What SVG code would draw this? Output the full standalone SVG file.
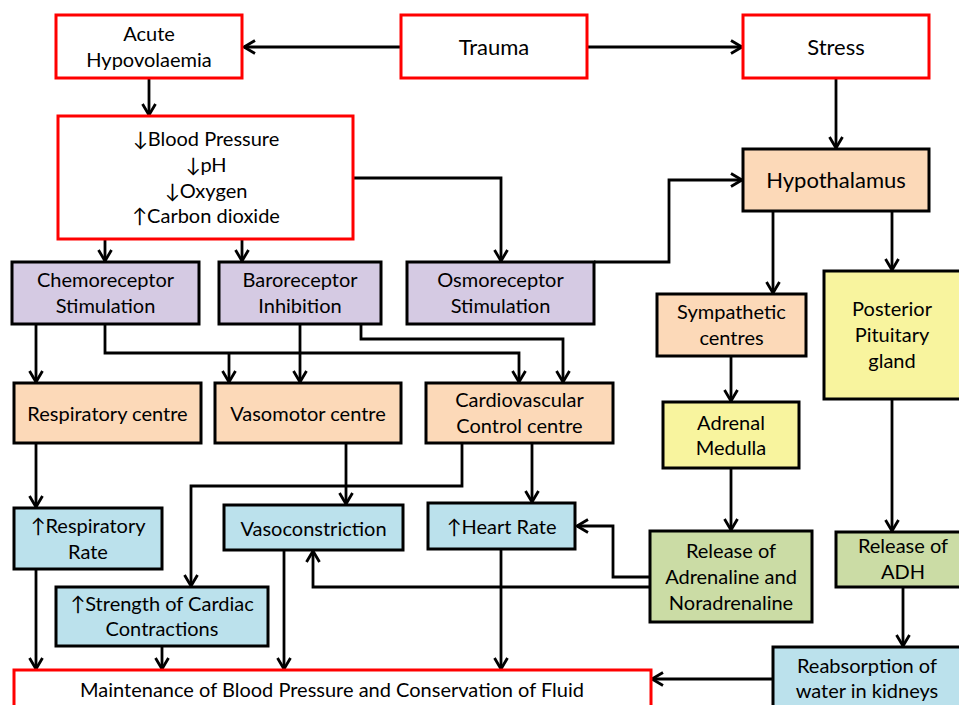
<svg xmlns="http://www.w3.org/2000/svg" width="959" height="705" viewBox="0 0 959 705">
<defs>
<style>
.b{stroke:#000;stroke-width:3}
.r{fill:#fff;stroke:#ff0000;stroke-width:3}
.pu{fill:#d5cae3}
.or{fill:#fcd9b8}
.ye{fill:#f8f49e}
.gr{fill:#cbdca5}
.bl{fill:#bbe1ec}
text{font-family:"Lato","DejaVu Sans",sans-serif;font-size:20px;fill:#000;text-anchor:middle}
.big{font-size:22px}
.c path{fill:none;stroke:#000;stroke-width:2.8;marker-end:url(#a)}
.c path.n{marker-end:none}
</style>
<marker id="a" markerUnits="userSpaceOnUse" markerWidth="16" markerHeight="16" viewBox="0 0 16 16" refX="13" refY="8" orient="auto">
<path d="M2,1.5 L13,8 L2,14.5" fill="none" stroke="#000" stroke-width="2.8"/>
</marker>
</defs>
<rect width="959" height="705" fill="#fff"/>
<g class="c">
<path d="M401,47 H244"/>
<path d="M587,47 H742"/>
<path d="M149,78 V115"/>
<path d="M105,239 V261"/>
<path d="M242,239 V261"/>
<path d="M353,178 H501 V261"/>
<path d="M836,78 V148"/>
<path d="M594,262 H669 V180 H742"/>
<path d="M773,211 V293"/>
<path d="M892,211 V270"/>
<path d="M36,324 V382"/>
<path d="M105,324 V353 H519 V382"/>
<path d="M229,353 V382"/>
<path d="M300,324 V382"/>
<path d="M361,324 V339 H563 V382"/>
<path d="M731,356 V401"/>
<path d="M36,443 V507"/>
<path d="M346,443 V504"/>
<path d="M462,443 V486 H191 V586"/>
<path d="M532,443 V502"/>
<path d="M731,468 V530"/>
<path d="M892,399 V531"/>
<path d="M650,577 H613 V526 H577"/>
<path d="M650,587 H313 V551"/>
<path d="M903,587 V646"/>
<path d="M36,569 V669"/>
<path d="M162,646 V669"/>
<path d="M284,550 V669"/>
<path d="M501,549 V669"/>
<path d="M773,679 H652"/>
</g>
<g id="acute"><rect class="r" x="56" y="15" width="186" height="63"/><text x="149" y="41">Acute</text><text x="149" y="67">Hypovolaemia</text></g>
<g id="trauma"><rect class="r" x="401" y="15" width="186" height="63"/><text class="big" x="494" y="55">Trauma</text></g>
<g id="stress"><rect class="r" x="743" y="15" width="186" height="63"/><text class="big" x="836" y="55">Stress</text></g>
<g id="bp"><rect class="r" x="58" y="116" width="295" height="123"/><text x="206" y="146">↓Blood Pressure</text><text x="206" y="172">↓pH</text><text x="206" y="198">↓Oxygen</text><text x="206" y="223">↑Carbon dioxide</text></g>
<g id="hypo"><rect class="b or" x="743" y="149" width="186" height="62"/><text class="big" x="836" y="188">Hypothalamus</text></g>
<g id="chemo"><rect class="b pu" x="12" y="262" width="187" height="62"/><text x="105.5" y="287">Chemoreceptor</text><text x="105.5" y="313">Stimulation</text></g>
<g id="baro"><rect class="b pu" x="219" y="262" width="162" height="62"/><text x="300" y="287">Baroreceptor</text><text x="300" y="313">Inhibition</text></g>
<g id="osmo"><rect class="b pu" x="407" y="262" width="187" height="62"/><text x="500.5" y="287">Osmoreceptor</text><text x="500.5" y="313">Stimulation</text></g>
<g id="symp"><rect class="b or" x="657" y="294" width="149" height="62"/><text x="731.5" y="319">Sympathetic</text><text x="731.5" y="345">centres</text></g>
<g id="postpit"><rect class="b ye" x="824" y="271" width="138" height="128"/><text x="892" y="316">Posterior</text><text x="892" y="342">Pituitary</text><text x="892" y="368">gland</text></g>
<g id="resp"><rect class="b or" x="14" y="383" width="187" height="60"/><text x="107.5" y="421">Respiratory centre</text></g>
<g id="vaso"><rect class="b or" x="215" y="383" width="186" height="60"/><text x="308" y="421">Vasomotor centre</text></g>
<g id="cardio"><rect class="b or" x="426" y="383" width="187" height="60"/><text x="519.5" y="407">Cardiovascular</text><text x="519.5" y="433">Control centre</text></g>
<g id="adrenal"><rect class="b ye" x="663" y="402" width="136" height="66"/><text x="731" y="430">Adrenal</text><text x="731" y="455">Medulla</text></g>
<g id="resprate"><rect class="b bl" x="14" y="508" width="148" height="61"/><text x="88" y="533">↑Respiratory</text><text x="88" y="559">Rate</text></g>
<g id="vasocon"><rect class="b bl" x="224" y="505" width="179" height="45"/><text x="313.5" y="536">Vasoconstriction</text></g>
<g id="hr"><rect class="b bl" x="428" y="503" width="147" height="46"/><text x="501.5" y="534">↑Heart Rate</text></g>
<g id="strength"><rect class="b bl" x="56" y="587" width="212" height="59"/><text x="162" y="611">↑Strength of Cardiac</text><text x="162" y="636">Contractions</text></g>
<g id="release"><rect class="b gr" x="650" y="531" width="162" height="91"/><text x="731" y="558">Release of</text><text x="731" y="584">Adrenaline and</text><text x="731" y="610">Noradrenaline</text></g>
<g id="adh"><rect class="b gr" x="836" y="532" width="134" height="55"/><text x="903" y="553">Release of</text><text x="903" y="579">ADH</text></g>
<g id="reabs"><rect class="b bl" x="773" y="647" width="190" height="70"/><text x="867" y="673">Reabsorption of</text><text x="867" y="698">water in kidneys</text></g>
<g id="maint"><rect class="r" x="14" y="670" width="637" height="50"/><text x="332" y="697">Maintenance of Blood Pressure and Conservation of Fluid</text></g>
</svg>
